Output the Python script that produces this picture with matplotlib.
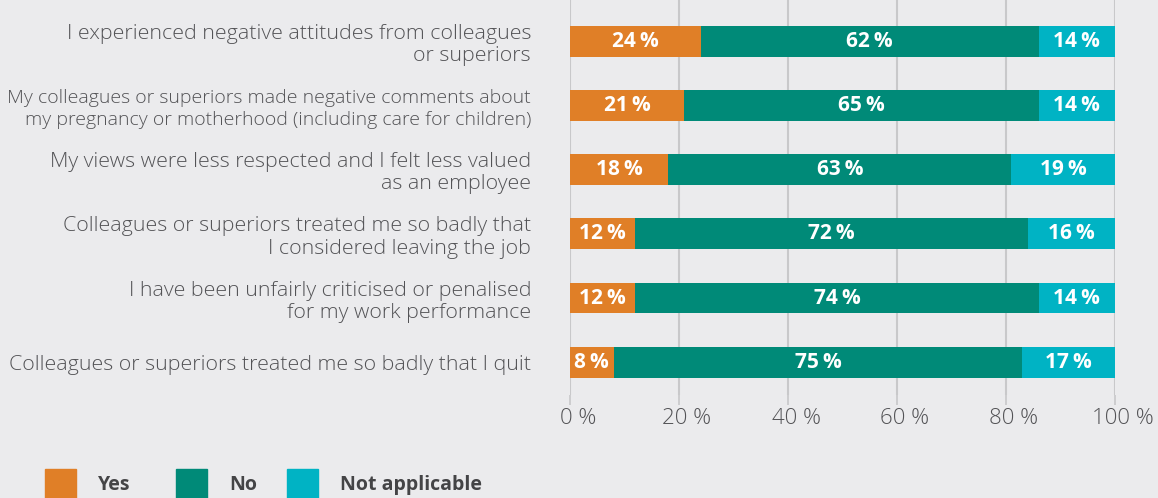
import matplotlib
matplotlib.use("Agg")
import matplotlib.pyplot as plt
from matplotlib.patches import Rectangle
from matplotlib import font_manager as fm
import matplotlib.transforms as mtransforms
import numpy as np

statements = [
    "I experienced negative attitudes from colleagues\nor superiors",
    "My colleagues or superiors made negative comments about\nmy pregnancy or motherhood (including care for children)",
    "My views were less respected and I felt less valued\nas an employee",
    "Colleagues or superiors treated me so badly that\nI considered leaving the job",
    "I have been unfairly criticised or penalised\nfor my work performance",
    "Colleagues or superiors treated me so badly that I quit",
]
yes_pct = [24, 21, 18, 12, 12, 8]
no_pct = [62, 65, 63, 72, 74, 75]
na_pct = [14, 14, 19, 16, 14, 17]
series_names = ["Yes", "No", "Not applicable"]
series_colors = ["#E07F27", "#008A78", "#00B3C4"]
x_ticks = [0, 20, 40, 60, 80, 100]
x_ticklabels = ["0 %", "20 %", "40 %", "60 %", "80 %", "100 %"]

names = {f.name for f in fm.fontManager.ttflist}
base_font = "Open Sans" if "Open Sans" in names else "DejaVu Sans"

bg = "#EBEBED"
text_grey = "#535356"

fig = plt.figure(figsize=(11.58, 4.98), dpi=100, facecolor=bg)
W, H = 1158, 498
ax = fig.add_axes([570 / W, (H - 395) / H, 545 / W, 395 / H], facecolor=bg)

y = np.arange(len(statements))
left = np.zeros(len(statements))
for vals, color in zip([yes_pct, no_pct, na_pct], series_colors):
    vals = np.array(vals, dtype=float)
    bars = ax.barh(y, vals, left=left, height=0.48, color=color, zorder=2)
    for b, v in zip(bars, vals):
        cx = b.get_x() + b.get_width() / 2
        ax.text(cx, b.get_y() + b.get_height() / 2, f"{int(v)}\u2009%",
                ha="center", va="center", color="white", fontsize=15,
                fontweight="bold", family=base_font, zorder=3)
    left += vals

ax.set_xlim(0, 100)
ax.set_ylim(5.51, -0.64)
ax.set_xticks(x_ticks)
ax.set_xticklabels([])
ax.tick_params(axis="x", length=7, color="#C8C8CA", width=1.2)
# percentage labels sit slightly to the right of their ticks
label_tf = ax.get_xaxis_transform() + mtransforms.ScaledTranslation(
    8 / 100, -23 / 100, fig.dpi_scale_trans)
for xt, lab in zip(x_ticks, x_ticklabels):
    ax.text(xt, 0, lab, transform=label_tf, ha="center", va="center",
            fontsize=16, color=text_grey, family=base_font,
            fontweight="light", clip_on=False)

ax.set_yticks(y)
ax.set_yticklabels(statements, fontsize=15.4, color=text_grey,
                   family=base_font, fontweight="light", linespacing=1.15)
# the longest statement is set slightly tighter so it fits the margin
ax.get_yticklabels()[1].set_fontsize(14.0)
ax.get_yticklabels()[1].set_linespacing(1.27)
ax.tick_params(axis="y", length=0, pad=28)
for s in ax.spines.values():
    s.set_visible(False)
ax.xaxis.grid(True, color="#C8C8CA", linewidth=1.5, zorder=0)
ax.set_axisbelow(True)

# legend along the bottom edge
legend_items = [(45, 98), (176, 229), (287, 340)]
for (sx, tx), name, color in zip(legend_items, series_names, series_colors):
    fig.add_artist(Rectangle((sx / W, (H - 500) / H), 31 / W, 31 / H,
                             transform=fig.transFigure, color=color,
                             clip_on=False))
    fig.text(tx / W, (H - 485) / H, name, ha="left", va="center",
             fontsize=14, fontweight="bold", color="#444446",
             family=base_font)

fig.savefig("out.png", dpi=100, facecolor=bg)
